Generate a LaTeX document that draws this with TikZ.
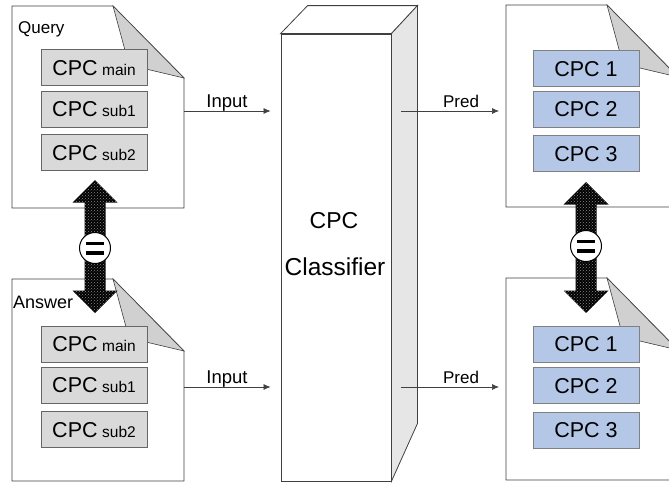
\documentclass[tikz,border=0pt]{standalone}
\usepackage{fontspec}
\setmainfont{Liberation Sans}
\usetikzlibrary{arrows.meta,patterns}
\definecolor{boxgray}{HTML}{D9D9D9}
\definecolor{flapgray}{HTML}{D0D0D0}
\definecolor{boxblue}{HTML}{B4C7E7}
\definecolor{lineg}{HTML}{404040}
\definecolor{sidegray}{HTML}{E6E6E6}
\newcommand\cpcsub[1]{{\fontsize{21.5}{21.5}\selectfont CPC}\hspace{4.5pt}{\fontsize{15.5}{15.5}\selectfont #1}}
\newcommand\cpcnum[1]{{\fontsize{21.5}{21.5}\selectfont CPC #1}}
\begin{document}
\begin{tikzpicture}[x=1pt,y=-1pt,
  docshape/.style={draw=lineg, line width=0.8pt, fill=white},
  flapshape/.style={draw=lineg, line width=0.6pt, fill=flapgray},
  cbox/.style={draw=black!60, line width=0.8pt, fill=boxgray, minimum width=106pt,
    minimum height=36pt, inner sep=0pt, text height=15.3pt, text depth=0pt},
  bluebox/.style={cbox, fill=boxblue, draw=black!50},
  lbl/.style={font=\fontsize{17}{17}\selectfont, inner sep=0pt},
  conn/.style={draw=black!75, line width=0.7pt, -{Latex[length=7pt,width=6pt]}},
  bigarrow/.style={fill=black, postaction={pattern=crosshatch dots, pattern color=black!45}},
  eqcircle/.style={circle, draw=black, line width=1pt, fill=white, minimum size=31pt, inner sep=0pt},
  eqbar/.style={line width=3.4pt, black},
  cubeline/.style={draw=lineg, line width=0.8pt}
]
\useasboundingbox (0,0) rectangle (669,482);
\clip (0,0) rectangle (669,482);

% documents
\foreach \dx/\dy in {12/6, 12/279, 506/5, 506/278}{
  \begin{scope}[shift={(\dx,\dy)}]
    \draw[docshape] (0,0) -- (101,0) -- (172,72) -- (172,202) -- (0,202) -- cycle;
    \draw[flapshape] (101,0) -- (117,59) -- (172,72) -- cycle;
  \end{scope}
}

% document titles
\node[lbl, anchor=base west] (qtitle) at (18,33) {Query};
\node[lbl, font=\fontsize{18}{18}\selectfont, anchor=base west] (atitle) at (13,308) {Answer};

% query boxes
\node[cbox] (qm) at (94,67.5) {\cpcsub{main}};
\node[cbox] (qs1) at (94,109) {\cpcsub{sub1}};
\node[cbox] (qs2) at (94,152.5) {\cpcsub{sub2}};
% answer boxes
\node[cbox] (am) at (94,344) {\cpcsub{main}};
\node[cbox] (as1) at (94,385) {\cpcsub{sub1}};
\node[cbox] (as2) at (94,429.5) {\cpcsub{sub2}};
% prediction boxes
\node[bluebox] (p1a) at (586,68.5) {\cpcnum{1}};
\node[bluebox] (p1b) at (586,109) {\cpcnum{2}};
\node[bluebox] (p1c) at (586,153.5) {\cpcnum{3}};
\node[bluebox] (p2a) at (586,344) {\cpcnum{1}};
\node[bluebox] (p2b) at (586,385.5) {\cpcnum{2}};
\node[bluebox] (p2c) at (586,430) {\cpcnum{3}};

% classifier cuboid
\node[cubeline, draw, fill=white, minimum width=110pt, minimum height=447pt, inner sep=0pt] (clf) at (336,257.5) {};
\draw[cubeline, fill=white] (clf.north west) -- ++(27,-28) -- ++(110,0) -- (clf.north east) -- cycle;
\draw[cubeline, fill=sidegray] (clf.north east) -- ++(26,-28) -- ++(0,418) -- (clf.south east) -- cycle;
\node[lbl, font=\fontsize{23}{23}\selectfont, text height=16.5pt, text depth=0pt] (clfa) at (334,220) {CPC};
\node[lbl, font=\fontsize{24.5}{24.5}\selectfont, text height=17.5pt, text depth=0pt] (clfb) at (335,267) {Classifier};

% connectors
\coordinate (qout) at (184,111);
\coordinate (aout) at (184,387);
\coordinate (clfout) at ([xshift=10pt]clf.east);
\coordinate (r1in) at (506,111);
\coordinate (r2in) at (506,387);
\draw[conn, shorten >=10pt] (qout) -- (qout -| clf.west);
\draw[conn, shorten >=10pt] (aout) -- (aout -| clf.west);
\draw[conn, shorten >=7pt] (clfout |- r1in) -- (r1in);
\draw[conn, shorten >=7pt] (clfout |- r2in) -- (r2in);
\node[lbl, font=\fontsize{18.5}{18.5}\selectfont, anchor=base] (in1) at (227,107) {Input};
\node[lbl, font=\fontsize{18.5}{18.5}\selectfont, anchor=base] (in2) at (227,383) {Input};
\node[lbl, anchor=base] (pr1) at (461,107) {Pred};
\node[lbl, anchor=base] (pr2) at (461,383) {Pred};

% equality double arrows
\foreach \cx/\ta/\tb in {95/180/313, 586/182/313}{
  \path[bigarrow] (\cx,\ta) -- (\cx+22.5,\ta+22.5) -- (\cx+10.5,\ta+22.5) -- (\cx+10.5,\tb-22.5)
    -- (\cx+22.5,\tb-22.5) -- (\cx,\tb) -- (\cx-22.5,\tb-22.5) -- (\cx-10.5,\tb-22.5)
    -- (\cx-10.5,\ta+22.5) -- (\cx-22.5,\ta+22.5) -- cycle;
}
\node[eqcircle] (eql) at (95,248) {};
\node[eqcircle] (eqr) at (586,246) {};
\foreach \n in {eql, eqr}{
  \draw[eqbar] ([shift={(-9,-4.8)}]\n.center) -- ++(18,0);
  \draw[eqbar] ([shift={(-9,4.8)}]\n.center) -- ++(18,0);
}
\end{tikzpicture}
\end{document}
